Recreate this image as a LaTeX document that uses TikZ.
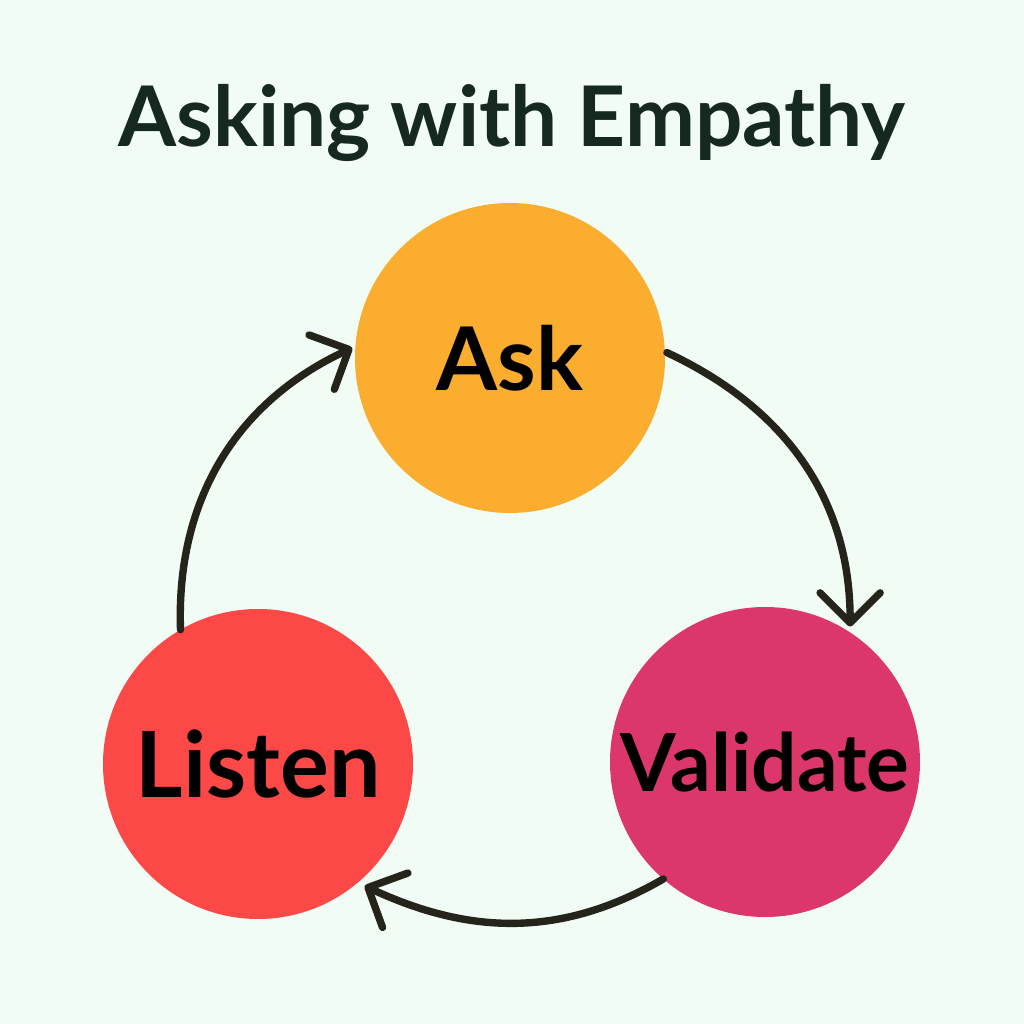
\documentclass[tikz,border=0pt]{standalone}
\usepackage{fontspec}
\setmainfont{Lato}
\usepackage{xcolor}
\usepackage{tikz}
\usetikzlibrary{arrows.meta,positioning,calc}
\definecolor{Mint}{HTML}{F1FCF5}
\definecolor{Title}{HTML}{16291E}
\definecolor{Ink}{HTML}{25241A}
\definecolor{AskOrange}{HTML}{FBAD30}
\definecolor{ListenRed}{HTML}{FD4848}
\definecolor{ValidPink}{HTML}{DC376B}
\tikzset{
  stage/.style={circle,minimum size=3.1cm,inner sep=0pt,outer sep=0pt,font=\bfseries,text=black},
  cyc/.style={-{Straight Barb[length=3mm,width=6mm,round]},line width=2.1pt,draw=Ink,line cap=round}
}
\begin{document}
\begin{tikzpicture}
  \fill[Mint] (0,0) rectangle (10.24,10.24);
  \node[font=\fontsize{23.8}{28}\selectfont\bfseries,text=Title,anchor=base] (title) at (5.12,8.77) {Asking with Empathy};
  \node[stage,fill=AskOrange,font=\fontsize{25}{30}\selectfont\bfseries] (ask) at (5.10,6.66) {Ask};
  \node[stage,fill=ListenRed,font=\fontsize{26}{30}\selectfont\bfseries] (listen) at (2.58,2.60) {Listen};
  \node[stage,fill=ValidPink,font=\fontsize{22.8}{26}\selectfont\bfseries] (valid) at (7.65,2.62) {Validate};
  \draw[cyc] ($(ask.2)+(0.02,0)$) to[out=-25,in=90] ($(valid.58)+(0.03,0.04)$);
  \draw[cyc] (valid.229) to[out=-150,in=-25] ($(listen.-49)+(0.05,-0.05)$);
  \draw[cyc] (listen.120) to[out=92,in=205] ($(ask.177)+(-0.03,0.02)$);
\end{tikzpicture}
\end{document}
